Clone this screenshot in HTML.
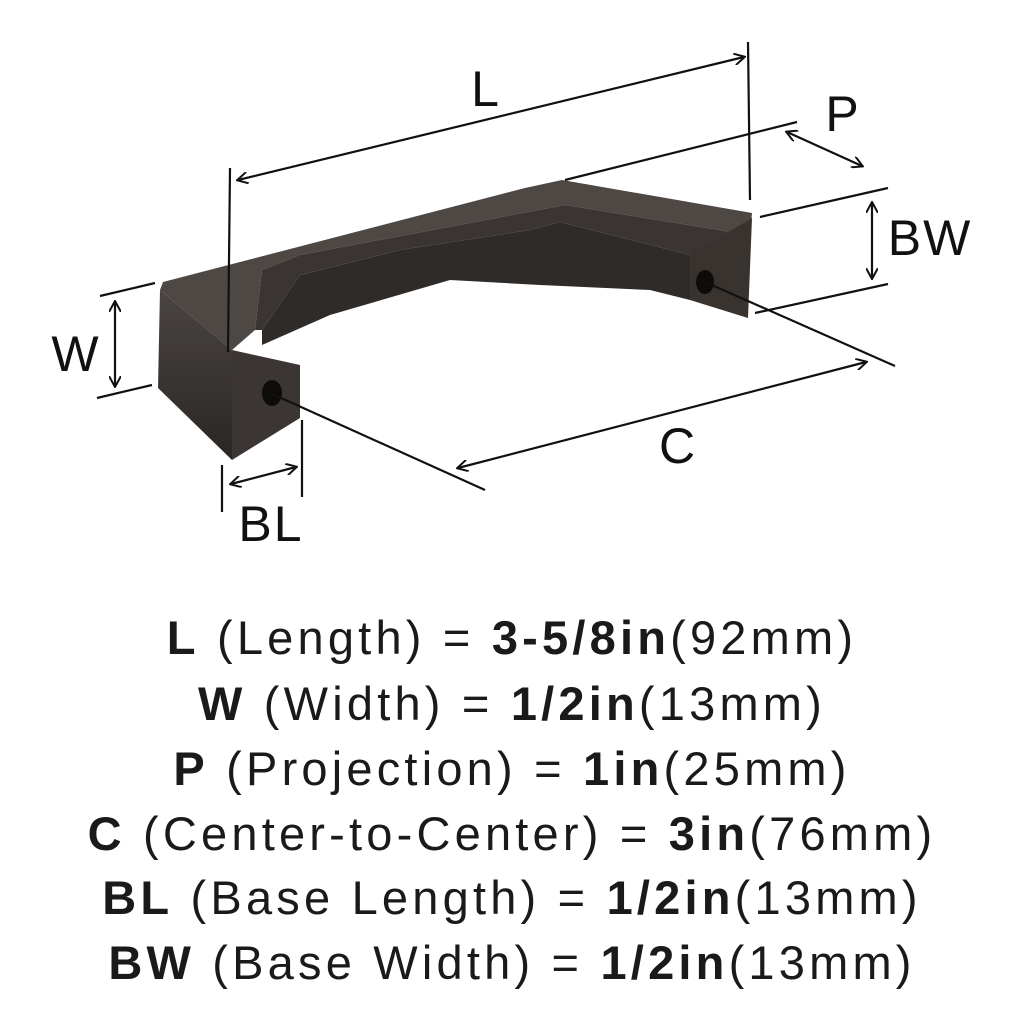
<!DOCTYPE html>
<html><head><meta charset="utf-8"><style>
html,body{margin:0;padding:0;background:#fff;width:1024px;height:1024px;overflow:hidden}
svg{display:block}
.spec{position:absolute;left:0;width:1024px;text-align:center;font-family:"Liberation Sans",sans-serif;font-size:47px;letter-spacing:4.2px;color:#1a1a1a;line-height:1;white-space:nowrap}
.spec b{font-weight:bold}
</style></head><body>
<svg width="1024" height="1024" viewBox="0 0 1024 1024" style="position:absolute;left:0;top:0">
<defs>
<marker id="a" markerWidth="12" markerHeight="12" refX="10" refY="6" orient="auto-start-reverse" markerUnits="userSpaceOnUse">
<path d="M0,0 L11,6 L0,12" fill="none" stroke="#111" stroke-width="2"/></marker>
<linearGradient id="g1" x1="0" y1="0" x2="0" y2="1"><stop offset="0" stop-color="#4a4542"/><stop offset="1" stop-color="#2a2624"/></linearGradient>
</defs>
<polygon points="163,282 525,188 562,180 752,213 750,235 565,205 528,212 300,255 262,270 255,330 232,350 160,290" fill="#4e4845"/>
<polygon points="528,212 565,205 750,235 690,255 560,222 530,230 400,250 300,275 262,330 255,330 262,270 300,255" fill="#3a3532"/>
<polygon points="560,222 690,255 690,300 650,290 540,285 450,280 330,315 262,345 262,330 300,275 400,250 530,230" fill="#2f2b29"/>
<polygon points="160,290 232,350 232,460 158,388" fill="url(#g1)"/>
<polygon points="232,350 300,365 300,418 232,460" fill="#3b3634"/>
<polygon points="690,255 752,218 748,318 690,300" fill="#38332f"/>
<ellipse cx="272" cy="393" rx="10" ry="13" fill="#0e0c0b"/>
<ellipse cx="705" cy="282" rx="9" ry="12" fill="#0e0c0b"/>
<g stroke="#111" stroke-width="2.2" fill="none">
<line x1="230" y1="168" x2="228" y2="352"/>
<line x1="748" y1="42" x2="750" y2="200"/>
<line x1="238" y1="180" x2="744" y2="57" marker-start="url(#a)" marker-end="url(#a)"/>
<line x1="565" y1="180" x2="797" y2="122"/>
<line x1="787" y1="132" x2="862" y2="166" marker-start="url(#a)" marker-end="url(#a)"/>
<line x1="760" y1="217" x2="888" y2="188"/>
<line x1="755" y1="313" x2="888" y2="284"/>
<line x1="872" y1="203" x2="872" y2="278" marker-start="url(#a)" marker-end="url(#a)"/>
<line x1="100" y1="296" x2="155" y2="283"/>
<line x1="97" y1="398" x2="152" y2="385"/>
<line x1="115" y1="302" x2="115" y2="386" marker-start="url(#a)" marker-end="url(#a)"/>
<line x1="270" y1="393" x2="485" y2="490"/>
<line x1="705" y1="282" x2="895" y2="366"/>
<line x1="458" y1="468" x2="866" y2="362" marker-start="url(#a)" marker-end="url(#a)"/>
<line x1="222" y1="465" x2="222" y2="512"/>
<line x1="302" y1="420" x2="302" y2="497"/>
<line x1="231" y1="484" x2="296" y2="467" marker-start="url(#a)" marker-end="url(#a)"/>
</g>
<g font-family="Liberation Sans, sans-serif" font-size="50" fill="#111" letter-spacing="2">
<text x="486" y="106" text-anchor="middle">L</text>
<text x="843" y="131" text-anchor="middle">P</text>
<text x="930" y="255" text-anchor="middle">BW</text>
<text x="76" y="371" text-anchor="middle">W</text>
<text x="678" y="463" text-anchor="middle">C</text>
<text x="271" y="541" text-anchor="middle">BL</text>
</g>
</svg>
<div class="spec" style="top:614px"><b>L</b> (Length) = <b>3-5/8in</b>(92mm)</div>
<div class="spec" style="top:680px"><b>W</b> (Width) = <b>1/2in</b>(13mm)</div>
<div class="spec" style="top:745px"><b>P</b> (Projection) = <b>1in</b>(25mm)</div>
<div class="spec" style="top:810px"><b>C</b> (Center-to-Center) = <b>3in</b>(76mm)</div>
<div class="spec" style="top:874px"><b>BL</b> (Base Length) = <b>1/2in</b>(13mm)</div>
<div class="spec" style="top:939px"><b>BW</b> (Base Width) = <b>1/2in</b>(13mm)</div>
</body></html>
